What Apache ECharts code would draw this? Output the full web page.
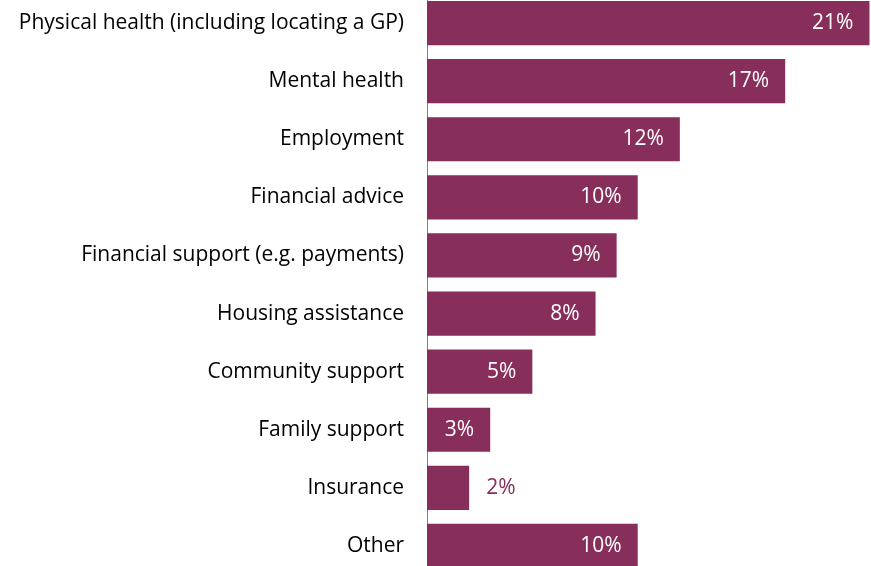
<!DOCTYPE html>
<html>
<head>
<meta charset="utf-8">
<script src="https://cdn.jsdelivr.net/npm/echarts@6/dist/echarts.min.js"></script>
<style>
  html, body { margin: 0; padding: 0; background: #ffffff; }
  #chart { width: 871px; height: 566px; }
</style>
</head>
<body>
<div id="chart"></div>
<script>
// Support areas, listed top to bottom
const categories = [
  'Physical health (including locating a GP)',
  'Mental health',
  'Employment',
  'Financial advice',
  'Financial support (e.g. payments)',
  'Housing assistance',
  'Community support',
  'Family support',
  'Insurance',
  'Other'
];
// Share of respondents, percent
const shares = [21, 17, 12, 10, 9, 8, 5, 3, 2, 10];

const barColor = '#872E5A';
const fontFamily = '"Open Sans", Lato, sans-serif';

const chart = echarts.init(document.getElementById('chart'), null, { renderer: 'canvas' });

chart.setOption({
  animation: false,
  backgroundColor: '#ffffff',
  grid: {
    left: 427, top: -6, width: 453, height: 581,
    containLabel: false,
    outerBoundsMode: 'none'
  },
  xAxis: {
    type: 'value',
    min: 0,
    max: 21.5,
    show: false
  },
  yAxis: {
    type: 'category',
    inverse: true,
    data: categories,
    axisLine: { show: true, lineStyle: { color: '#7f7f7f', width: 1 } },
    axisTick: { show: false },
    axisLabel: {
      margin: 23,
      color: '#000000',
      fontSize: 21,
      fontFamily: fontFamily
    }
  },
  series: [{
    type: 'bar',
    data: shares.map(v => ({
      value: v,
      label: v < 3
        ? { position: 'right', distance: 17, color: barColor }
        : { position: 'insideRight', distance: 16, color: '#ffffff' }
    })),
    barCategoryGap: '24%',
    itemStyle: { color: barColor },
    label: {
      show: true,
      fontSize: 21,
      fontFamily: fontFamily,
      formatter: p => p.value + '%'
    }
  }]
});
</script>
</body>
</html>
